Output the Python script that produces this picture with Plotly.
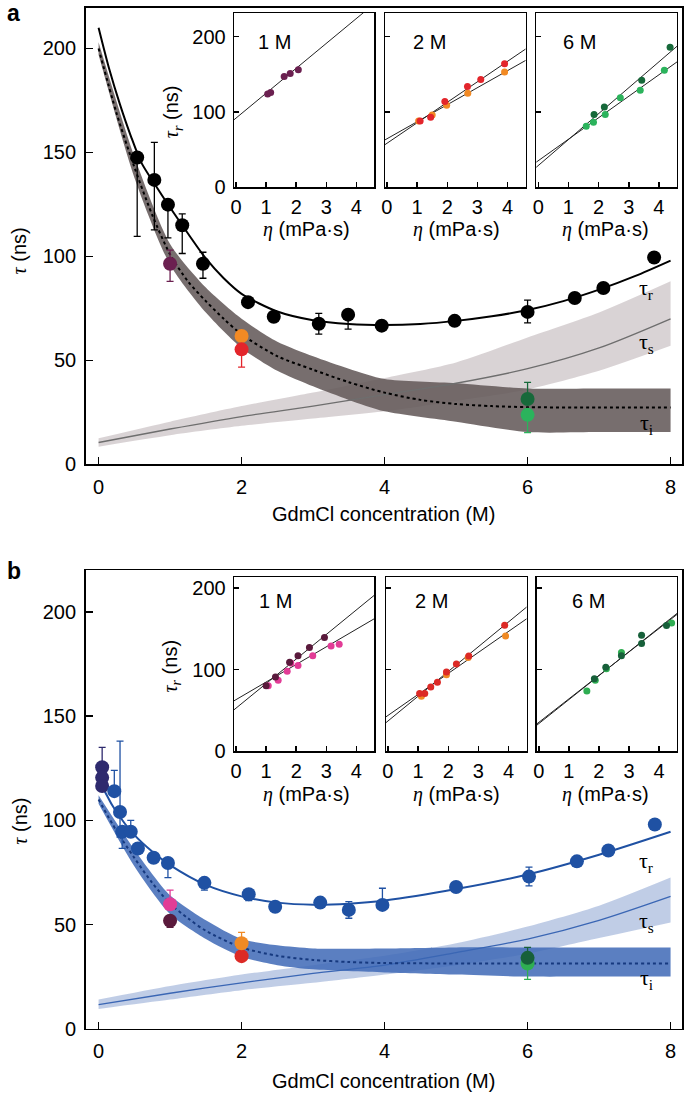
import numpy as np
import plotly.graph_objects as go

W, H = 685, 1108
FONT = "Liberation Sans, Arial, Helvetica, sans-serif"
SER_I = "font-family:Liberation Serif;font-style:italic"

def fx(p):
    return p / W

def fy(p):
    return 1 - p / H

# ---------------- Panel a : main ----------------
a_r_x = [0.54, 0.78, 0.97, 1.17, 1.46, 2.09, 2.45, 3.08, 3.49, 3.96, 4.98, 6.00, 6.66, 7.06, 7.77]
a_r_y = [147.6, 136.8, 124.9, 115.0, 96.5, 78.0, 71.0, 67.6, 72.0, 66.7, 69.0, 73.3, 80.0, 84.8, 99.5]
a_r_ep = [1.5, 18, 0, 5.5, 5.5, 0, 0, 5, 0, 0, 0, 5.7, 0, 0, 0]
a_r_em = [38, 24, 16, 13.6, 7, 0, 0, 5, 7, 0, 0, 5.3, 0, 0, 0]

a_fitr_x = [0, 0.15, 0.3, 0.45, 0.6, 0.8, 1.0, 1.25, 1.5, 1.75, 2.0, 2.5, 3.0, 3.5, 4.0, 4.5, 5.0, 5.5, 6.0, 6.5, 7.0, 7.5, 8.0]
a_fitr_y = [210, 190, 173, 158, 145, 134, 123.5, 111, 99, 89.5, 82, 73.5, 69.3, 67.5, 67, 67.5, 69, 71.2, 74.2, 78.5, 84, 90.5, 98]

a_ti_x = [0, 0.25, 0.5, 0.75, 1.0, 1.25, 1.5, 1.75, 2.0, 2.5, 3.0, 3.5, 4.0, 4.5, 5.0, 5.5, 6.0, 7.0, 8.0]
a_ti_y = [200, 169, 143, 120, 101, 88, 78.5, 70, 62.5, 52, 45.5, 39.5, 34.5, 31, 29, 28, 27.5, 27.3, 27.3]
a_tib_x = [0, 0.5, 1.0, 1.5, 2.0, 2.5, 3.0, 3.5, 4.0, 5.0, 6.0, 7.0, 8.0]
a_tib_lo = [197, 138, 96, 73, 56, 45, 37.5, 31, 25.5, 20.5, 15.5, 15.5, 15.5]
a_tib_hi = [203, 148, 106, 85, 70, 59, 52, 46, 41, 39, 36.5, 36.5, 36.5]

a_ts_x = [0, 1, 2, 3, 4, 5, 6, 7, 8]
a_ts_y = [10.5, 17, 23, 28, 33.5, 39, 46, 56, 70]
a_tsb_lo = [8.5, 14, 18.5, 22, 25.5, 30.5, 36, 45, 57]
a_tsb_hi = [12.5, 20.5, 28, 34.5, 41.5, 49, 61, 73, 88]

# coloured points (x, y, +err, -err)
a_col_x = [1.0, 2.0, 2.0, 6.0, 6.0]
a_col_y = [96.5, 61.7, 55.3, 31.4, 23.8]
a_col_ep = [6.5, 0, 0, 8, 0]
a_col_em = [8.5, 0, 8.5, 0, 8.5]
a_col_c = ["#6b2050", "#f28a24", "#e3252b", "#17693a", "#2bb35c"]

# ---------------- Panel a : insets ----------------
a1_x = [1.05, 1.15, 1.6, 1.8, 2.07]
a1_y = [124, 126, 147, 151, 156]
a1_fit = (92, 33)  # intercept, slope

a2_red_x = [1.1, 1.45, 1.92, 2.67, 3.11, 3.9]
a2_red_y = [88, 93, 114, 134, 143, 164]
a2_org_x = [1.05, 1.5, 1.98, 2.68, 3.9]
a2_org_y = [88, 96, 109, 125, 153]
a2_fit_red = (58.5, 27.2)
a2_fit_org = (64.5, 22.6)

a3_dk_x = [1.85, 2.19, 3.43, 4.37]
a3_dk_y = [96.7, 106.8, 142, 186]
a3_lt_x = [1.59, 1.83, 2.22, 2.72, 3.38, 4.18]
a3_lt_y = [81.2, 86.5, 96.7, 118.8, 128.9, 155.4]
a3_fit_dk = (29, 34.4)
a3_fit_lt = (35.4, 28.5)

# ---------------- Panel b : main ----------------
b_r_x = [0.22, 0.30, 0.33, 0.45, 0.55, 0.77, 0.97, 1.48, 2.10, 2.47, 3.10, 3.50, 3.97, 5.00, 6.02, 6.69, 7.13, 7.78]
b_r_y = [114, 104, 94.5, 94.5, 86.5, 82, 79.5, 70, 64.5, 58.5, 60.5, 57, 59.4, 68, 73, 80.3, 85.5, 98]
b_r_ep = [10, 34, 0, 5.5, 0, 0, 0, 0, 0, 0, 0, 4, 8, 0, 4.5, 0, 0, 0]
b_r_em = [0, 12, 8, 0, 0, 0, 7, 3.5, 3, 0, 0, 4, 0, 0, 4.5, 0, 0, 0]
b_n_x = [0.05, 0.05, 0.05]
b_n_y = [125.5, 120.5, 116.5]
b_n_ep = [9.5, 0, 0]
b_n_em = [0, 0, 0]

b_fitr_x = [0, 0.1, 0.25, 0.5, 0.75, 1.0, 1.5, 2.0, 2.5, 3.0, 3.5, 4.0, 5.0, 6.0, 7.0, 8.0]
b_fitr_y = [121, 113, 104, 93, 85, 78.5, 69, 63.5, 60.5, 59.5, 60, 61.5, 67, 74, 83.5, 94.5]

b_ti_x = [0, 0.25, 0.5, 0.75, 1.0, 1.25, 1.5, 2.0, 2.5, 3.0, 3.5, 4.0, 5.0, 6.0, 8.0]
b_ti_y = [110, 95, 82, 70, 60, 53, 47, 39, 35, 33, 32, 31.5, 31.3, 31.3, 31.3]
b_tib_x = [0, 0.5, 1.0, 1.5, 2.0, 2.5, 3.0, 4.0, 5.0, 6.0, 7.0, 8.0]
b_tib_lo = [108, 78, 55, 43, 34.5, 30.5, 28.5, 27, 26, 25, 25, 25]
b_tib_hi = [112, 86, 64, 52, 43, 40, 38.5, 38.5, 39, 39, 39, 39]

b_ts_x = [0, 1, 2, 3, 4, 5, 6, 7, 8]
b_ts_y = [11.5, 17, 22, 26.5, 30.5, 36.5, 43, 52, 63.5]
b_tsb_lo = [9.5, 14, 18.5, 22, 26, 30.5, 36, 43.5, 51]
b_tsb_hi = [14, 20.5, 26, 30.5, 35, 41, 49, 59, 72.5]

b_col_x = [1.0, 1.0, 2.0, 2.0, 6.0, 6.0]
b_col_y = [51.8, 59.7, 34.8, 41.0, 31.3, 34.0]
b_col_ep = [0, 6.8, 0, 5.2, 0, 5]
b_col_em = [3.2, 0, 0, 0, 7.6, 0]
b_col_c = ["#5a1a3c", "#e23c96", "#dc2a26", "#f08a24", "#2fae52", "#17603a"]

# ---------------- Panel b : insets ----------------
b1_dk_x = [1.0, 1.31, 1.78, 2.06, 2.44, 2.94]
b1_dk_y = [80.4, 90.9, 109, 117, 127, 139.4]
b1_pk_x = [1.07, 1.4, 1.7, 1.82, 2.06, 2.55, 3.16, 3.43]
b1_pk_y = [80.4, 87, 98, 108, 105, 117, 129, 131]
b1_fit_dk = (53, 30)
b1_fit_pk = (63.4, 21.5)

b2_red_x = [1.05, 1.22, 1.42, 1.64, 1.94, 2.27, 2.68, 3.87]
b2_red_y = [70.7, 70.7, 78.8, 84.5, 97, 107, 116.7, 154.3]
b2_org_x = [1.11, 1.94, 2.66, 3.9]
b2_org_y = [67.5, 93.7, 115, 141]
b2_fit_red = (37.2, 30.3)
b2_fit_org = (44, 25.7)

b3_dk_x = [1.85, 2.23, 2.75, 3.42, 3.42, 4.25]
b3_dk_y = [89, 103, 117, 142, 132, 154]
b3_lt_x = [1.6, 1.88, 2.25, 2.75, 4.42]
b3_lt_y = [74, 87, 101, 121, 157]
b3_fit_a = (34, 29.3)
b3_fit_b = (35.5, 28.7)

inset_titles = ["1 M", "2 M", "6 M"]
main_xticks = [0, 2, 4, 6, 8]
main_yticks = [0, 50, 100, 150, 200]
inset_xticks = [0, 1, 2, 3, 4]
inset_yticks = [0, 100, 200]
INSET_XR = [-0.07, 4.6]

fig = go.Figure()


def band(x, lo, hi, color, n):
    fig.add_trace(go.Scatter(x=x, y=lo, mode="lines", line=dict(width=0, shape="spline", smoothing=0.7),
                             xaxis="x" + n, yaxis="y" + n, hoverinfo="skip", showlegend=False))
    fig.add_trace(go.Scatter(x=x, y=hi, mode="lines", fill="tonexty", fillcolor=color,
                             line=dict(width=0, shape="spline", smoothing=0.7),
                             xaxis="x" + n, yaxis="y" + n, hoverinfo="skip", showlegend=False))


def curve(x, y, color, width, n, dash="solid"):
    fig.add_trace(go.Scatter(x=x, y=y, mode="lines", line=dict(color=color, width=width, dash=dash,
                                                                shape="spline", smoothing=0.8),
                             xaxis="x" + n, yaxis="y" + n, hoverinfo="skip", showlegend=False))


def pts(x, y, color, size, n, ep=None, em=None):
    kw = {}
    if ep is not None:
        kw["error_y"] = dict(type="data", symmetric=False, array=ep, arrayminus=em,
                             color=color, thickness=1.3, width=3.5)
    fig.add_trace(go.Scatter(x=x, y=y, mode="markers",
                             marker=dict(color=color, size=size, line=dict(width=0)),
                             xaxis="x" + n, yaxis="y" + n, showlegend=False, **kw))


def fitline(par, n):
    xs = np.array(INSET_XR)
    fig.add_trace(go.Scatter(x=xs, y=par[0] + par[1] * xs, mode="lines",
                             line=dict(color="#222222", width=1),
                             xaxis="x" + n, yaxis="y" + n, hoverinfo="skip", showlegend=False))


# ---- panel a main (axis "")
band(a_ts_x, a_tsb_lo, a_tsb_hi, "rgba(196,188,190,0.65)", "")
band(a_tib_x, a_tib_lo, a_tib_hi, "rgba(100,90,90,0.88)", "")
curve(a_ts_x, a_ts_y, "#6e6e6e", 1.3, "")
curve(a_ti_x, a_ti_y, "black", 2, "", dash="3px,3px")
curve(a_fitr_x, a_fitr_y, "black", 2, "")
pts(a_r_x, a_r_y, "black", 14, "", a_r_ep, a_r_em)
for i in range(len(a_col_x)):
    pts([a_col_x[i]], [a_col_y[i]], a_col_c[i], 14, "", [a_col_ep[i]], [a_col_em[i]])

# ---- panel a insets
fitline(a1_fit, "2")
pts(a1_x, a1_y, "#6b2050", 7, "2")
fitline(a2_fit_red, "3")
fitline(a2_fit_org, "3")
pts(a2_org_x, a2_org_y, "#f28a24", 7, "3")
pts(a2_red_x, a2_red_y, "#e3252b", 7, "3")
fitline(a3_fit_dk, "4")
fitline(a3_fit_lt, "4")
pts(a3_lt_x, a3_lt_y, "#2bb35c", 7, "4")
pts(a3_dk_x, a3_dk_y, "#17693a", 7, "4")

# ---- panel b main
BLUE = "#1f51a3"
band(b_ts_x, b_tsb_lo, b_tsb_hi, "rgba(150,172,214,0.6)", "5")
band(b_tib_x, b_tib_lo, b_tib_hi, "rgba(62,104,182,0.85)", "5")
curve(b_ts_x, b_ts_y, "#3a66b4", 1.3, "5")
curve(b_ti_x, b_ti_y, "#16397f", 2, "5", dash="3px,3px")
curve(b_fitr_x, b_fitr_y, BLUE, 2, "5")
pts(b_n_x, b_n_y, "#2e2a6e", 14, "5", b_n_ep, b_n_em)
pts(b_r_x, b_r_y, BLUE, 14, "5", b_r_ep, b_r_em)
for i in range(len(b_col_x)):
    pts([b_col_x[i]], [b_col_y[i]], b_col_c[i], 14, "5", [b_col_ep[i]], [b_col_em[i]])

# ---- panel b insets
fitline(b1_fit_dk, "6")
fitline(b1_fit_pk, "6")
pts(b1_pk_x, b1_pk_y, "#e23c96", 7, "6")
pts(b1_dk_x, b1_dk_y, "#5a1a3c", 7, "6")
fitline(b2_fit_red, "7")
fitline(b2_fit_org, "7")
pts(b2_org_x, b2_org_y, "#f08a24", 7, "7")
pts(b2_red_x, b2_red_y, "#dc2a26", 7, "7")
fitline(b3_fit_a, "8")
fitline(b3_fit_b, "8")
pts(b3_lt_x, b3_lt_y, "#2fae52", 7, "8")
pts(b3_dk_x, b3_dk_y, "#17603a", 7, "8")

# ---------------- axes ----------------
def main_x(dom, anchor):
    return dict(domain=dom, anchor=anchor, range=[-0.181, 8.16], tickvals=main_xticks,
                showline=True, linecolor="black", linewidth=1.5, mirror=True,
                ticks="inside", ticklen=7, tickwidth=1.5, tickcolor="black",
                showgrid=False, zeroline=False, ticklabelstandoff=4,
                tickfont=dict(family=FONT, size=20, color="black"))


def main_y(dom, anchor, top):
    return dict(domain=dom, anchor=anchor, range=[0, top], tickvals=main_yticks,
                showline=True, linecolor="black", linewidth=1.5, mirror=True,
                ticks="inside", ticklen=7, tickwidth=1.5, tickcolor="black",
                showgrid=False, zeroline=False, ticklabelstandoff=4,
                tickfont=dict(family=FONT, size=20, color="black"))


def in_x(dom, anchor):
    return dict(domain=dom, anchor=anchor, range=INSET_XR, tickvals=inset_xticks,
                showline=True, linecolor="black", linewidth=1.3, mirror=True,
                ticks="inside", ticklen=5, tickwidth=1.5, tickcolor="black",
                showgrid=False, zeroline=False, ticklabelstandoff=1,
                tickfont=dict(family=FONT, size=20, color="black"))


def in_y(dom, anchor, top, labels):
    return dict(domain=dom, anchor=anchor, range=[0, top], tickvals=inset_yticks,
                showline=True, linecolor="black", linewidth=1.3, mirror=True,
                ticks="inside", ticklen=5, tickwidth=1.5, tickcolor="black",
                showgrid=False, zeroline=False, showticklabels=labels, ticklabelstandoff=3,
                tickfont=dict(family=FONT, size=20, color="black"))


MX = [fx(83), fx(682)]
a_in_x = [[fx(232), fx(373)], [fx(383.5), fx(525)], [fx(535.5), fx(677)]]
b_in_x = [[fx(232), fx(373)], [fx(384.5), fx(526)], [fx(536), fx(677)]]

layout = dict(
    width=W, height=H, autosize=False,
    margin=dict(l=0, r=0, t=0, b=0, pad=0),
    paper_bgcolor="white", plot_bgcolor="white",
    font=dict(family=FONT, color="black"),
    showlegend=False,
    xaxis=main_x(MX, "y"),
    yaxis=main_y([fy(469), fy(8)], "x", 219.5),
    xaxis5=main_x(MX, "y5"),
    yaxis5=main_y([fy(1039), fy(576)], "x5", 220),
)
for k in range(3):
    n = str(k + 2)
    layout["xaxis" + n] = in_x(a_in_x[k], "y" + n)
    layout["yaxis" + n] = in_y([fy(189.3), fy(13)], "x" + n, 231.5, k == 0)
    m = str(k + 6)
    layout["xaxis" + m] = in_x(b_in_x[k], "y" + m)
    layout["yaxis" + m] = in_y([fy(759), fy(583)], "x" + m, 213, k == 0)

fig.update_layout(**layout)

ann = []


def A(text, x, y, size=20, angle=0, xanchor="center", yanchor="middle"):
    ann.append(dict(text=text, x=fx(x), y=fy(y), xref="paper", yref="paper", showarrow=False,
                    font=dict(family=FONT, size=size, color="black"), textangle=angle,
                    xanchor=xanchor, yanchor=yanchor))


A("<b>a</b>", 2, 13, size=23, xanchor="left")
A("<b>b</b>", 2, 577, size=23, xanchor="left")
tau_main = '<span style="%s">τ</span> (ns)' % SER_I
A(tau_main, 17, 253, angle=-90)
A(tau_main, 17, 829, angle=-90)
tau_r_in = '<span style="%s">τ<sub>r</sub></span> (ns)' % SER_I
A(tau_r_in, 171, 113, angle=-90)
A(tau_r_in, 169, 673, angle=-90)
A("GdmCl concentration (M)", 382, 519)
A("GdmCl concentration (M)", 382, 1092)
eta = '<span style="%s">η</span> (mPa·s)' % SER_I
for cx in [305, 455, 605]:
    A(eta, cx, 232)
    A(eta, cx, 802)
for t, cx in zip(inset_titles, [273, 428, 579]):
    A(t, cx, 42)
for t, cx in zip(inset_titles, [274, 430, 588]):
    A(t, cx, 607)


def L(text, x, y, n):
    ann.append(dict(text=text, x=x, y=y, xref="x" + n, yref="y" + n, showarrow=False,
                    font=dict(family="Liberation Serif", size=22, color="black")))


lab_txt = ['τ<sub>r</sub>', 'τ<sub>s</sub>', 'τ<sub>i</sub>']
a_lab_y = [84.4, 58.2, 19.4]
b_lab_y = [80, 51, 23.7]
for t, yv in zip(lab_txt, a_lab_y):
    L(t, 7.66, yv, "")
for t, yv in zip(lab_txt, b_lab_y):
    L(t, 7.66, yv, "5")

fig.update_layout(annotations=ann)
fig.write_html(
    "out.html",
    config={"displayModeBar": False, "staticPlot": True},
    post_script="document.body.style.margin='0px';document.body.style.overflow='hidden';"
                "document.documentElement.style.overflow='hidden';",
)
